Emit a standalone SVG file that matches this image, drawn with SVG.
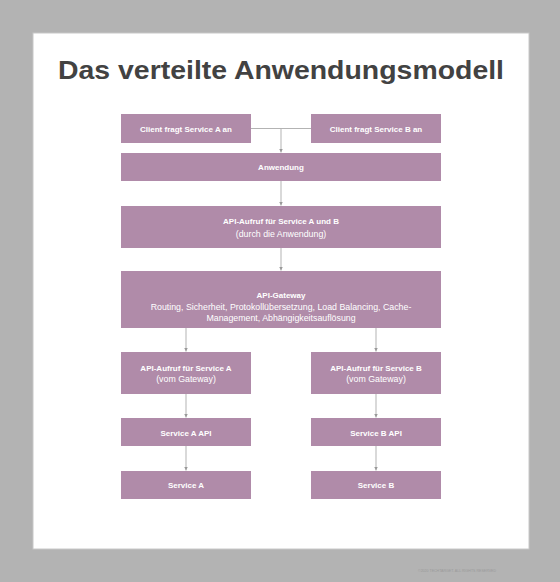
<svg xmlns="http://www.w3.org/2000/svg" width="560" height="582" viewBox="0 0 560 582">
<style>
.box{fill:#b08ba9}
.t{font-family:"Liberation Sans",Arial,sans-serif;font-size:8px;fill:#ffffff;text-anchor:middle}
.b{font-weight:bold}
.r{font-size:8.8px}
.c{stroke:#b3b3b3;stroke-width:1;fill:none}
</style>
<defs>
<marker id="ah" markerWidth="4" markerHeight="4" refX="4" refY="2" orient="auto" markerUnits="userSpaceOnUse">
<path d="M0,0 L4,2 L0,4 Z" fill="#999999"/>
</marker>
</defs>
<rect x="0" y="0" width="560" height="582" fill="#b3b3b3"/>
<rect x="33" y="33" width="496" height="516" fill="#ffffff" stroke="#c8c8c8" stroke-width="1"/>
<text x="281" y="79" font-family="'Liberation Sans',Arial,sans-serif" font-weight="bold" font-size="25" fill="#424242" text-anchor="middle" textLength="446" lengthAdjust="spacingAndGlyphs">Das verteilte Anwendungsmodell</text>
<g id="connectors">
<path class="c" d="M251,128.5 H311"/>
<path class="c" d="M281,128.5 V152.5" marker-end="url(#ah)"/>
<path class="c" d="M281,181 V205.5" marker-end="url(#ah)"/>
<path class="c" d="M281,248 V270.5" marker-end="url(#ah)"/>
<path class="c" d="M186,328 V351.5" marker-end="url(#ah)"/>
<path class="c" d="M376,328 V351.5" marker-end="url(#ah)"/>
<path class="c" d="M186,394 V417.5" marker-end="url(#ah)"/>
<path class="c" d="M376,394 V417.5" marker-end="url(#ah)"/>
<path class="c" d="M186,446 V470.5" marker-end="url(#ah)"/>
<path class="c" d="M376,446 V470.5" marker-end="url(#ah)"/>
</g>
<g id="clientA"><rect class="box" x="121" y="114" width="130" height="29"/><text class="t b" x="186" y="132">Client fragt Service A an</text></g>
<g id="clientB"><rect class="box" x="311" y="114" width="130" height="29"/><text class="t b" x="376" y="132">Client fragt Service B an</text></g>
<g id="anwendung"><rect class="box" x="121" y="153" width="320" height="28"/><text class="t b" x="281" y="170">Anwendung</text></g>
<g id="apiAufruf"><rect class="box" x="121" y="206" width="320" height="42"/><text class="t b" x="281" y="224">API-Aufruf für Service A und B</text><text class="t r" x="281" y="237">(durch die Anwendung)</text></g>
<g id="gateway"><rect class="box" x="121" y="271" width="320" height="57"/><text class="t b" x="281" y="298">API-Gateway</text><text class="t r" x="281" y="310">Routing, Sicherheit, Protokollübersetzung, Load Balancing, Cache-</text><text class="t r" x="281" y="320.5">Management, Abhängigkeitsauflösung</text></g>
<g id="aufrufA"><rect class="box" x="121" y="352" width="130" height="42"/><text class="t b" x="186" y="371">API-Aufruf für Service A</text><text class="t r" x="186" y="381.5">(vom Gateway)</text></g>
<g id="aufrufB"><rect class="box" x="311" y="352" width="130" height="42"/><text class="t b" x="376" y="371">API-Aufruf für Service B</text><text class="t r" x="376" y="381.5">(vom Gateway)</text></g>
<g id="apiA"><rect class="box" x="121" y="418" width="130" height="28"/><text class="t b" x="186" y="436">Service A API</text></g>
<g id="apiB"><rect class="box" x="311" y="418" width="130" height="28"/><text class="t b" x="376" y="436">Service B API</text></g>
<g id="serviceA"><rect class="box" x="121" y="471" width="130" height="28"/><text class="t b" x="186" y="488">Service A</text></g>
<g id="serviceB"><rect class="box" x="311" y="471" width="130" height="28"/><text class="t b" x="376" y="488">Service B</text></g>
<text x="457" y="572" font-family="'Liberation Sans',Arial,sans-serif" font-size="3.5" fill="#9a9a9a" text-anchor="middle" textLength="78" lengthAdjust="spacingAndGlyphs">©2020 TECHTARGET. ALL RIGHTS RESERVED</text>
</svg>
